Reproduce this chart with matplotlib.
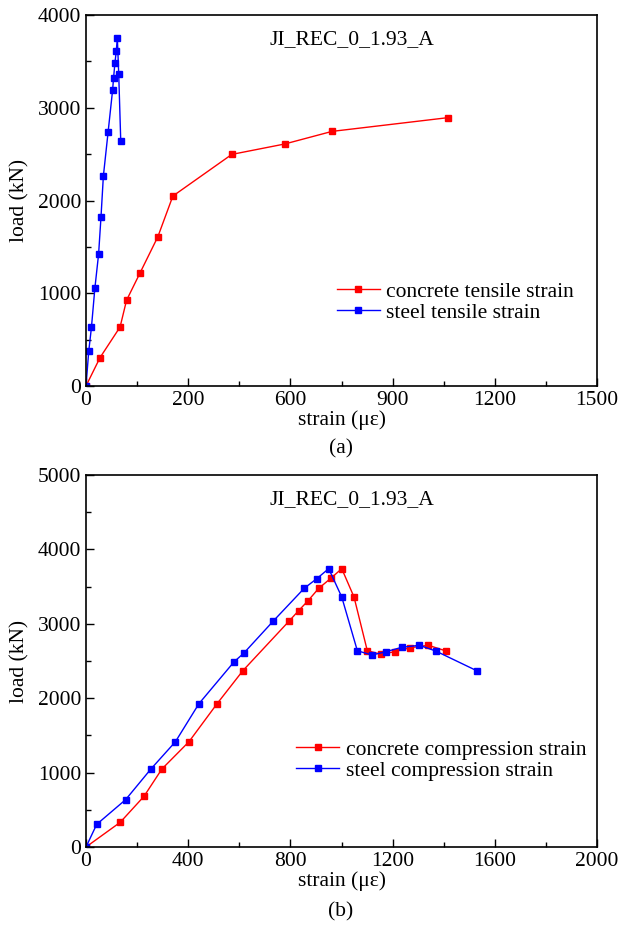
import matplotlib
matplotlib.use("Agg")
import matplotlib.pyplot as plt
from matplotlib.ticker import MultipleLocator, FixedLocator, FixedFormatter

plt.rcParams['font.family'] = ['Liberation Serif', 'DejaVu Serif']
plt.rcParams['mathtext.fontset'] = 'stix'

# ---- (a) tensile data ----
steel_t_strain = [0, 8, 16, 26, 37, 44, 51, 65, 78, 81, 85, 89, 92, 96, 102]
steel_t_load = [0, 374, 633, 1053, 1423, 1822, 2264, 2742, 3187, 3324, 3486, 3615, 3755, 3368, 2641]
conc_t_strain = [0, 41, 100, 119, 159, 211, 255, 428, 583, 722, 1062]
conc_t_load = [0, 305, 636, 924, 1222, 1610, 2048, 2497, 2609, 2745, 2893]
xticks_a = [0, 300, 600, 900, 1200, 1500]
xticklabels_a = ["0", "200", "600", "900", "1200", "1500"]

# ---- (b) compression data ----
conc_c_strain = [0, 134, 227, 297, 403, 513, 614, 795, 832, 869, 911, 958, 1001, 1049, 1101, 1155, 1208, 1269, 1340, 1410]
conc_c_load = [0, 332, 681, 1048, 1415, 1926, 2370, 3037, 3176, 3310, 3477, 3611, 3741, 3360, 2638, 2590, 2625, 2679, 2711, 2634]
steel_c_strain = [0, 42, 155, 254, 350, 442, 580, 617, 733, 854, 903, 950, 1001, 1062, 1119, 1174, 1236, 1305, 1369, 1529]
steel_c_load = [0, 305, 636, 1048, 1415, 1926, 2491, 2603, 3037, 3477, 3606, 3741, 3360, 2638, 2580, 2625, 2684, 2711, 2634, 2370]

FS = 15.5
fig = plt.figure(figsize=(6.2, 9.26), dpi=100)
W, H = 620, 926
axA = fig.add_axes([86 / W, 1 - 386 / H, 511 / W, 371 / H])
axB = fig.add_axes([86 / W, 1 - 847 / H, 511 / W, 372 / H])

mk = dict(marker='s', markersize=5, linewidth=1.0)

axA.plot(conc_t_strain, conc_t_load, color='#ff0000', label='concrete tensile strain', **mk)
axA.plot(steel_t_strain, steel_t_load, color='#0000ff', label='steel tensile strain', **mk)
axA.set_xlim(0, 1500)
axA.set_ylim(0, 4000)
axA.xaxis.set_major_locator(FixedLocator(xticks_a))
axA.xaxis.set_major_formatter(FixedFormatter(xticklabels_a))
axA.xaxis.set_minor_locator(MultipleLocator(150))
axA.yaxis.set_major_locator(MultipleLocator(1000))
axA.yaxis.set_minor_locator(MultipleLocator(500))
axA.text(0.52, 0.933, 'JI_REC_0_1.93_A', transform=axA.transAxes, ha='center', va='center', fontsize=FS)
axA.legend(loc='upper left', bbox_to_anchor=(0.47, 0.31), frameon=False, fontsize=FS,
           handlelength=2.0, handletextpad=0.3, labelspacing=0.05, borderpad=0, markerscale=0.85)

axB.plot(conc_c_strain, conc_c_load, color='#ff0000', label='concrete compression strain', **mk)
axB.plot(steel_c_strain, steel_c_load, color='#0000ff', label='steel compression strain', **mk)
axB.set_xlim(0, 2000)
axB.set_ylim(0, 5000)
axB.xaxis.set_major_locator(MultipleLocator(400))
axB.xaxis.set_minor_locator(MultipleLocator(200))
axB.yaxis.set_major_locator(MultipleLocator(1000))
axB.yaxis.set_minor_locator(MultipleLocator(500))
axB.text(0.52, 0.933, 'JI_REC_0_1.93_A', transform=axB.transAxes, ha='center', va='center', fontsize=FS)
axB.legend(loc='upper left', bbox_to_anchor=(0.39, 0.318), frameon=False, fontsize=FS,
           handlelength=2.0, handletextpad=0.3, labelspacing=0.05, borderpad=0, markerscale=0.85)

for ax in (axA, axB):
    ax.tick_params(which='both', direction='in', top=False, right=False, labelsize=FS)
    ax.tick_params(which='major', length=6, width=1.0)
    ax.tick_params(which='minor', length=3.5, width=1.0)
    for s in ax.spines.values():
        s.set_linewidth(1.2)
    ax.set_xlabel('strain (με)', fontsize=FS, labelpad=0)
    ax.set_ylabel('load (kN)', fontsize=FS, labelpad=6)

fig.text(341 / W, 1 - 449 / H, '(a)', ha='center', va='center', fontsize=FS)
fig.text(341 / W, 1 - 912 / H, '(b)', ha='center', va='center', fontsize=FS)

fig.savefig('out.png', dpi=100)
